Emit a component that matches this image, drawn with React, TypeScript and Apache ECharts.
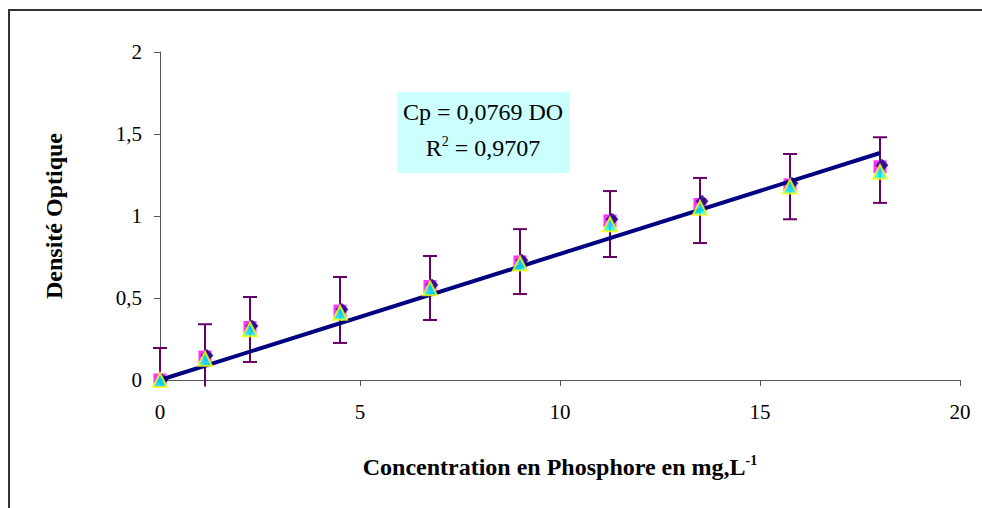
import React, { useEffect, useRef } from "react";
import * as echarts from "echarts";

const xs = [0, 1.125, 2.25, 4.5, 6.75, 9, 11.25, 13.5, 15.75, 18];
const diamondY = [0, 0.15, 0.33, 0.43, 0.58, 0.73, 0.98, 1.09, 1.2, 1.31];
const squareY = [0, 0.14, 0.32, 0.42, 0.57, 0.72, 0.97, 1.07, 1.19, 1.3];
const triangleY = [0, 0.13, 0.31, 0.41, 0.56, 0.71, 0.95, 1.05, 1.18, 1.27];
const errHigh = [0.195, 0.34, 0.506, 0.628, 0.756, 0.92, 1.152, 1.232, 1.378, 1.48];
const errLow = [0, -0.04, 0.11, 0.226, 0.366, 0.524, 0.75, 0.835, 0.98, 1.08];
const trendX = [0, 18];
const trendY = [0, 1.384];
const xTicks = { min: 0, max: 20, interval: 5 };
const yTicks = { min: 0, max: 2, interval: 0.5 };
const annotationLines = ["Cp = 0,0769 DO", "R{sup|2} = 0,9707"];
const xTitle = "{b|Concentration en Phosphore en mg,L}{s|-1}";
const yTitle = "Densité Optique";

const FONT = "'Liberation Serif', 'Times New Roman', serif";

export default function App() {
  const ref = useRef<HTMLDivElement>(null);
  useEffect(() => {
    if (!ref.current) return;
    const chart = echarts.init(ref.current, null, { renderer: "svg" });
    const fmt = (v: number) => String(v).replace(".", ",");
    chart.setOption({
      animation: false,
      backgroundColor: "#ffffff",
      grid: { left: 160, right: 22, top: 52, bottom: 128, containLabel: false },
      xAxis: {
        type: "value",
        min: xTicks.min,
        max: xTicks.max,
        interval: xTicks.interval,
        splitLine: { show: false },
        axisLine: { lineStyle: { color: "#555", width: 1 } },
        axisTick: { show: true, length: 6, lineStyle: { color: "#555" } },
        axisLabel: { fontFamily: FONT, fontSize: 21, color: "#000", margin: 21, formatter: fmt },
        name: xTitle,
        nameLocation: "middle",
        nameGap: 73,
        nameTextStyle: {
          rich: {
            b: { fontFamily: FONT, fontSize: 24, fontWeight: "bold", color: "#000" },
            s: { fontFamily: FONT, fontSize: 14, fontWeight: "bold", color: "#000", verticalAlign: "top", padding: [0, 0, 13, 0] },
          },
        },
      },
      yAxis: {
        type: "value",
        min: yTicks.min,
        max: yTicks.max,
        interval: yTicks.interval,
        splitLine: { show: false },
        axisLine: { show: true, lineStyle: { color: "#555", width: 1 } },
        axisTick: { show: true, length: 6, lineStyle: { color: "#555" } },
        axisLabel: { fontFamily: FONT, fontSize: 21, color: "#000", margin: 18, formatter: fmt },
        name: yTitle,
        nameLocation: "middle",
        nameRotate: 90,
        nameGap: 94,
        nameTextStyle: { fontFamily: FONT, fontSize: 24, fontWeight: "bold", color: "#000" },
      },
      graphic: [
        {
          type: "rect",
          shape: { x: 9, y: 10, width: 1100, height: 700 },
          style: { fill: "none", stroke: "#333", lineWidth: 2 },
          silent: true,
        },
        {
          type: "rect",
          shape: { x: 397, y: 92, width: 173, height: 81 },
          style: { fill: "#CCFFFF" },
          z: 10,
        },
        {
          type: "text",
          x: 483,
          y: 112,
          z: 11,
          style: { text: annotationLines[0], fontFamily: FONT, fontSize: 24, fill: "#000", align: "center", verticalAlign: "middle" },
        },
        {
          type: "text",
          x: 483,
          y: 148,
          z: 11,
          style: {
            text: annotationLines[1],
            fontFamily: FONT,
            fontSize: 24,
            fill: "#000",
            align: "center",
            verticalAlign: "middle",
            rich: { sup: { fontFamily: FONT, fontSize: 14, fill: "#000", verticalAlign: "top", padding: [0, 0, 13, 0] } },
          },
        },
      ],
      series: [
        {
          type: "custom",
          clip: false,
          z: 2,
          data: xs.map((x, i) => [x, errLow[i], errHigh[i]]),
          renderItem: (params: any, api: any) => {
            const x = api.value(0);
            const lo = api.value(1);
            const hi = api.value(2);
            const pHi = api.coord([x, hi]);
            const pLo = api.coord([x, lo]);
            const children: any[] = [
              { type: "line", shape: { x1: pHi[0], y1: pHi[1], x2: pLo[0], y2: pLo[1] }, style: { stroke: "#660066", lineWidth: 2 } },
              { type: "line", shape: { x1: pHi[0] - 7, y1: pHi[1], x2: pHi[0] + 7, y2: pHi[1] }, style: { stroke: "#660066", lineWidth: 2 } },
            ];
            if (lo > 0) {
              children.push({ type: "line", shape: { x1: pLo[0] - 7, y1: pLo[1], x2: pLo[0] + 7, y2: pLo[1] }, style: { stroke: "#660066", lineWidth: 2 } });
            }
            return { type: "group", children };
          },
        },
        {
          type: "scatter",
          z: 3,
          symbol: "rect",
          symbolSize: 13,
          itemStyle: { color: "#FF00FF" },
          data: xs.map((x, i) => [x, squareY[i]]),
        },
        {
          type: "scatter",
          z: 4,
          symbol: "diamond",
          symbolSize: 13,
          symbolOffset: [2, 0],
          itemStyle: { color: "#000080" },
          data: xs.map((x, i) => [x, diamondY[i]]),
        },
        {
          type: "line",
          z: 5,
          symbol: "none",
          lineStyle: { color: "#000080", width: 4 },
          data: trendX.map((x, i) => [x, trendY[i]]),
        },
        {
          type: "scatter",
          z: 6,
          symbol: "triangle",
          symbolSize: 14,
          itemStyle: { color: "#00FFFF", borderColor: "#FFFF00", borderWidth: 2 },
          data: xs.map((x, i) => [x, triangleY[i]]),
        },
      ],
    });
    return () => chart.dispose();
  }, []);
  return <div ref={ref} style={{ position: "fixed", left: 0, top: 0, width: 982, height: 508 }} />;
}
